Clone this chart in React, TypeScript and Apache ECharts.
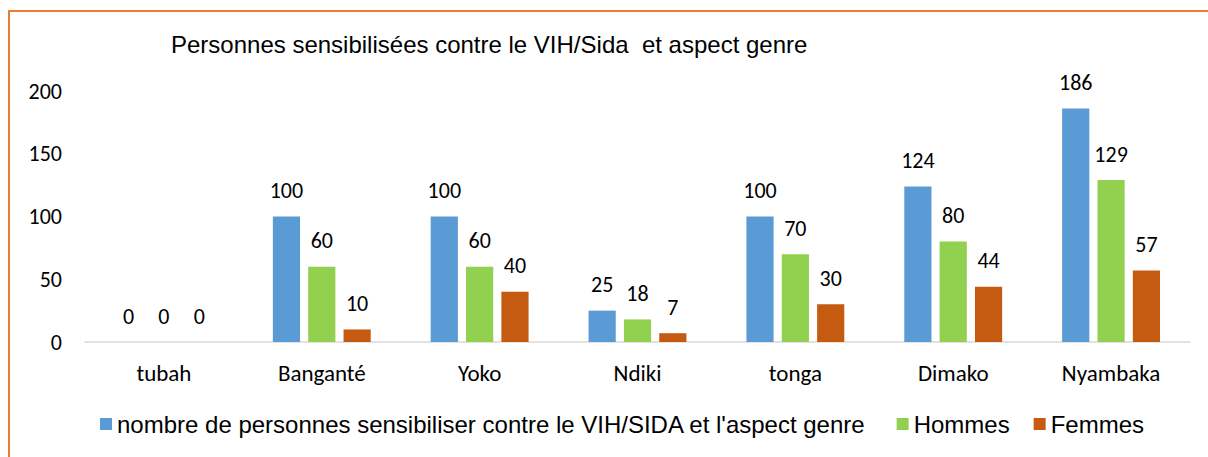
import React, { useEffect, useRef } from "react";
import * as echarts from "echarts";

const categories = ["tubah", "Banganté", "Yoko", "Ndiki", "tonga", "Dimako", "Nyambaka"];
const totalValues = [0, 100, 100, 25, 100, 124, 186];
const hommesValues = [0, 60, 60, 18, 70, 80, 129];
const femmesValues = [0, 10, 40, 7, 30, 44, 57];
const seriesNames = [
  "nombre de personnes sensibiliser contre le VIH/SIDA et l'aspect genre",
  "Hommes",
  "Femmes",
];
const colors = ["#5B9BD5", "#92D050", "#C55A11"];

export default function App() {
  const ref = useRef<HTMLDivElement>(null);
  useEffect(() => {
    const chart = echarts.init(ref.current!, null, { renderer: "svg" });
    const labelFont = "Carlito, Lato, 'Noto Sans', sans-serif";
    const dataSets = [totalValues, hommesValues, femmesValues];
    chart.setOption({
      animation: false,
      backgroundColor: "#fff",
      title: {
        text: "Personnes sensibilisées contre le VIH/Sida  et aspect genre",
        left: 166,
        top: 27,
        textStyle: {
          fontFamily: "'Liberation Sans', Arial, sans-serif",
          fontSize: 24,
          fontWeight: "normal",
          color: "#000",
        },
      },
      graphic: [
        {
          type: "rect",
          shape: { x: 9, y: 11, width: 1260, height: 500 },
          style: { fill: "none", stroke: "#ED7D31", lineWidth: 2 },
          silent: true,
        },
      ],
      legend: {
        left: 95,
        top: 407,
        itemWidth: 12,
        itemHeight: 12,
        itemGap: 24,
        icon: "rect",
        formatter: (name: string) => (name === seriesNames[0] ? name + " " : name),
        textStyle: {
          fontFamily: "'Liberation Sans', Arial, sans-serif",
          fontSize: 24,
          color: "#000",
          padding: [0, 0, 0, 0],
        },
        data: seriesNames,
      },
      grid: { left: 85, right: 18, top: 91, bottom: 115, containLabel: false },
      xAxis: {
        type: "category",
        data: categories,
        axisLine: { lineStyle: { color: "#D9D9D9", width: 1.5 } },
        axisTick: { show: false },
        axisLabel: {
          fontFamily: labelFont,
          fontSize: 23,
          color: "#000",
          margin: 19,
        },
      },
      yAxis: {
        type: "value",
        min: 0,
        max: 200,
        interval: 50,
        splitLine: { show: false },
        axisLine: { show: false },
        axisTick: { show: false },
        axisLabel: {
          fontFamily: labelFont,
          fontSize: 22,
          color: "#000",
          margin: 23,
        },
      },
      series: dataSets.map((d, i) => ({
        name: seriesNames[i],
        type: "bar",
        data: d,
        barGap: "30%",
        barCategoryGap: "38%",
        itemStyle: { color: colors[i] },
        label: {
          show: true,
          position: "top",
          distance: 15,
          fontFamily: labelFont,
          fontSize: 22,
          color: "#000",
        },
      })),
    });
    return () => chart.dispose();
  }, []);
  return (
    <div
      ref={ref}
      style={{ position: "fixed", left: 0, top: 0, width: 1208, height: 457 }}
    />
  );
}
